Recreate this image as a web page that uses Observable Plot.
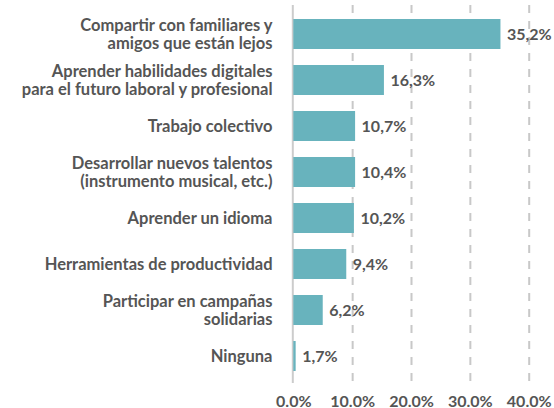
<!DOCTYPE html>
<html>
<head>
<meta charset="utf-8">
<script src="https://cdn.jsdelivr.net/npm/d3@7"></script>
<script src="https://cdn.jsdelivr.net/npm/@observablehq/plot@0.6"></script>
<style>
  html, body { margin: 0; padding: 0; background: #fff; }
  #chart svg { display: block; }
</style>
</head>
<body>
<div id="chart"></div>
<script>
const categories = [
  "Compartir con familiares y\namigos que están lejos",
  "Aprender habilidades digitales\npara el futuro laboral y profesional",
  "Trabajo colectivo",
  "Desarrollar nuevos talentos\n(instrumento musical, etc.)",
  "Aprender un idioma",
  "Herramientas de productividad",
  "Participar en campañas\nsolidarias",
  "Ninguna"
];
// bar lengths as drawn in the picture
const values = [35.2, 15.4, 10.5, 10.5, 10.3, 9.0, 5.0, 0.4];
const valueLabels = ["35,2%", "16,3%", "10,7%", "10,4%", "10,2%", "9,4%", "6,2%", "1,7%"];
const tickValues = [0, 10, 20, 30, 40];
const tickLabels = ["0.0%", "10.0%", "20.0%", "30.0%", "40.0%"];

const data = categories.map((c, i) => ({cat: c, value: values[i], label: valueLabels[i]}));

const chart = Plot.plot({
  width: 554,
  height: 408,
  marginLeft: 293.3,
  marginRight: 25.3,
  marginTop: 2,
  marginBottom: 19,
  style: {fontFamily: "Lato, sans-serif", color: "#555555", background: "#ffffff"},
  x: {domain: [0, 40], axis: null},
  y: {domain: categories, padding: 0.34, axis: null},
  marks: [
    Plot.ruleX(tickValues.slice(1), {stroke: "#c8c8c8", strokeWidth: 2, strokeDasharray: "8,8", insetTop: 3, insetBottom: 6}),
    Plot.ruleX([0], {stroke: "#cccccc", strokeWidth: 2, dx: -1, insetTop: 3, insetBottom: 6}),
    Plot.barX(data, {x: "value", y: "cat", fill: "#68b3bd"}),
    Plot.text(data, {x: "value", y: "cat", text: "label", textAnchor: "start", dx: 6, fontSize: 16, fontWeight: "bold", fill: "#555555"}),
    Plot.text(data, {x: 0, y: "cat", text: "cat", textAnchor: "end", dx: -21.3, fontSize: 16.5, fontWeight: "bold", lineHeight: 1.07, fill: "#555555"}),
    Plot.axisX({ticks: tickValues, tickFormat: (d) => tickLabels[tickValues.indexOf(d)], tickSize: 0, tickPadding: 6, fontSize: 16, fontWeight: "bold", label: null, fill: "#555555"})
  ]
});
document.getElementById("chart").appendChild(chart);
</script>
</body>
</html>
